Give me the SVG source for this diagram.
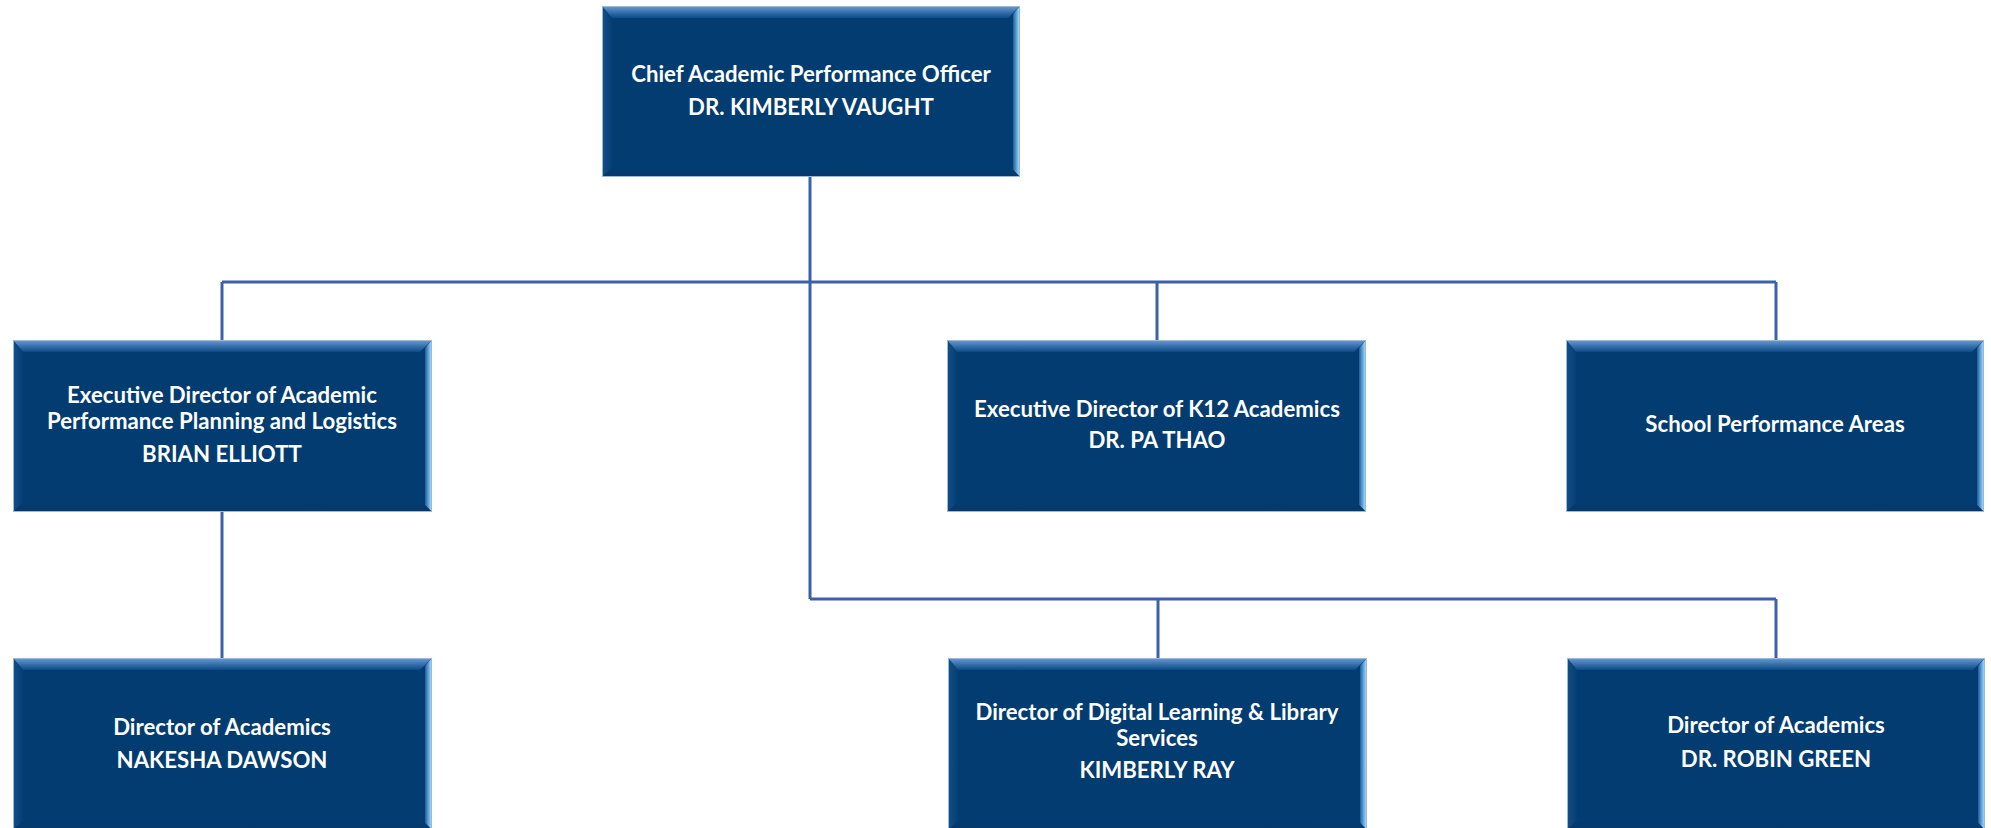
<svg xmlns="http://www.w3.org/2000/svg" xmlns:xlink="http://www.w3.org/1999/xlink" width="1991" height="828" viewBox="0 0 1991 828">
<style>
  .conn { fill: none; stroke: #3D60A6; stroke-width: 3; }
  .t { font-family: Lato, "Open Sans", "Liberation Sans", sans-serif; font-weight: 700; font-size: 22.2px; fill: #FFFFFF; text-anchor: middle; }
</style>
<defs>
  <linearGradient id="gTop" x1="0" y1="0" x2="0" y2="1">
    <stop offset="0" stop-color="#6A9CD0"/>
    <stop offset="0.5" stop-color="#3A72AE"/>
    <stop offset="1" stop-color="#0B4A86"/>
  </linearGradient>
  <linearGradient id="gRight" x1="0" y1="0" x2="1" y2="0">
    <stop offset="0" stop-color="#1D5C98"/>
    <stop offset="0.6" stop-color="#6FB2E6"/>
    <stop offset="1" stop-color="#B8E4FB"/>
  </linearGradient>
  <linearGradient id="gLeft" x1="0" y1="0" x2="1" y2="0">
    <stop offset="0" stop-color="#134F88"/>
    <stop offset="1" stop-color="#053E74"/>
  </linearGradient>
  <linearGradient id="gBottom" x1="0" y1="0" x2="0" y2="1">
    <stop offset="0" stop-color="#043B70"/>
    <stop offset="1" stop-color="#07386A"/>
  </linearGradient>
  <symbol id="box" viewBox="0 0 419 172" preserveAspectRatio="none" overflow="visible">
    <rect x="0" y="0" width="419" height="172" fill="#023C71"/>
    <polygon points="0,0 419,0 407,12 10,12" fill="url(#gTop)"/>
    <polygon points="419,0 419,172 412,165 412,8" fill="url(#gRight)"/>
    <polygon points="0,0 10,12 10,163 0,172" fill="url(#gLeft)"/>
    <polygon points="0,172 10,163 412,165 419,172" fill="url(#gBottom)"/>
    <rect x="0.5" y="0.5" width="418" height="171" fill="none" stroke="#9DB9D8" stroke-width="1"/>
  </symbol>
</defs>

<g id="connectors">
  <path class="conn" d="M810 177 V599"/>
  <path class="conn" d="M222 282 H1776"/>
  <path class="conn" d="M222 282 V340"/>
  <path class="conn" d="M1157 282 V340"/>
  <path class="conn" d="M1776 282 V340"/>
  <path class="conn" d="M810 599 H1776"/>
  <path class="conn" d="M1158 599 V658"/>
  <path class="conn" d="M1776 599 V658"/>
  <path class="conn" d="M222 512 V658"/>
</g>

<g id="node-chief">
  <use xlink:href="#box" href="#box" x="602" y="6" width="418" height="171"/>
  <text class="t" x="811" y="82">Chief Academic Performance Officer</text>
  <text class="t" x="811" y="115">DR. KIMBERLY VAUGHT</text>
</g>

<g id="node-planning">
  <use xlink:href="#box" href="#box" x="13" y="340" width="419" height="172"/>
  <text class="t" x="222" y="403">Executive Director of Academic</text>
  <text class="t" x="222" y="429">Performance Planning and Logistics</text>
  <text class="t" x="222" y="462">BRIAN ELLIOTT</text>
</g>

<g id="node-k12">
  <use xlink:href="#box" href="#box" x="947" y="340" width="419" height="172"/>
  <text class="t" x="1157" y="417">Executive Director of K12 Academics</text>
  <text class="t" x="1157" y="448">DR. PA THAO</text>
</g>

<g id="node-school">
  <use xlink:href="#box" href="#box" x="1566" y="340" width="418" height="172"/>
  <text class="t" x="1775" y="432">School Performance Areas</text>
</g>

<g id="node-dawson">
  <use xlink:href="#box" href="#box" x="13" y="658" width="419" height="172"/>
  <text class="t" x="222" y="735">Director of Academics</text>
  <text class="t" x="222" y="768">NAKESHA DAWSON</text>
</g>

<g id="node-ray">
  <use xlink:href="#box" href="#box" x="948" y="658" width="419" height="172"/>
  <text class="t" x="1157" y="720">Director of Digital Learning &amp; Library</text>
  <text class="t" x="1157" y="746">Services</text>
  <text class="t" x="1157" y="778">KIMBERLY RAY</text>
</g>

<g id="node-green">
  <use xlink:href="#box" href="#box" x="1567" y="658" width="418" height="172"/>
  <text class="t" x="1776" y="733">Director of Academics</text>
  <text class="t" x="1776" y="767">DR. ROBIN GREEN</text>
</g>
</svg>
